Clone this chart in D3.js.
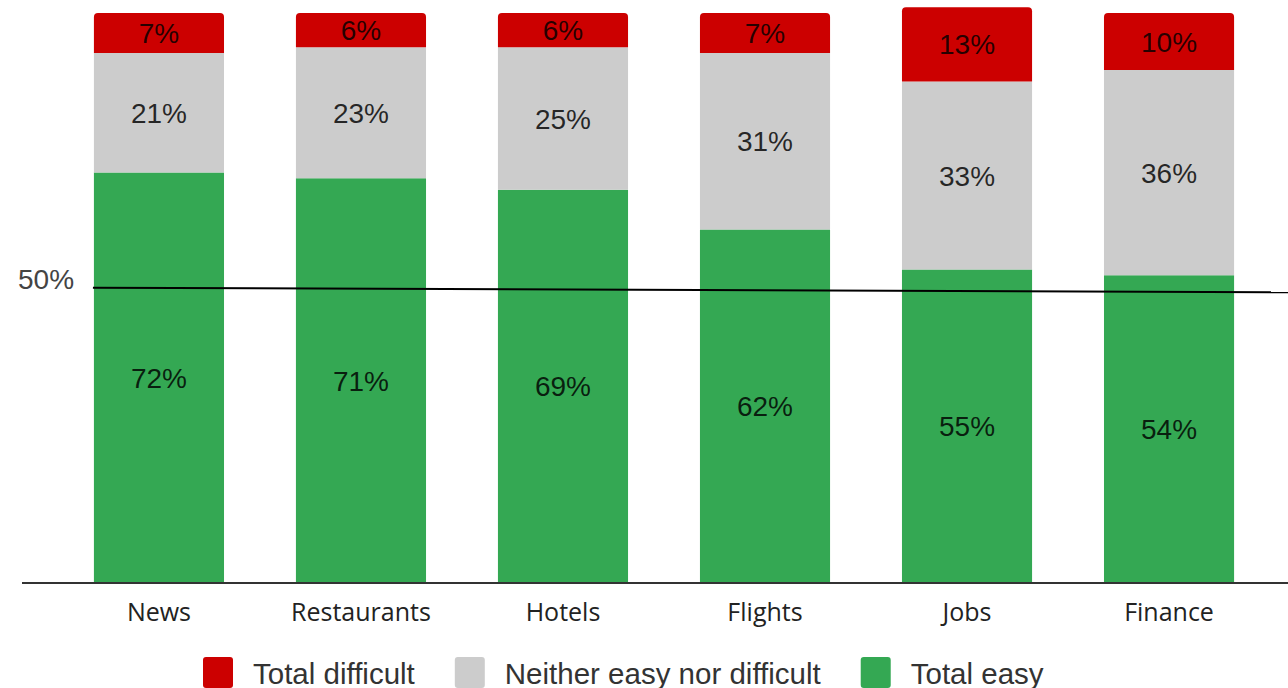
<!DOCTYPE html>
<html>
<head>
<meta charset="utf-8">
<script src="https://cdn.jsdelivr.net/npm/d3@7"></script>
<style>
  html, body { margin: 0; padding: 0; background: #fff; }
  svg { display: block; }
</style>
</head>
<body>
<div id="js-chart"></div>
<script>
// categories and series
var categories = ["News", "Restaurants", "Hotels", "Flights", "Jobs", "Finance"];
var totalEasy = [72, 71, 69, 62, 55, 54];
var neither = [21, 23, 25, 31, 33, 36];
var totalDifficult = [7, 6, 6, 7, 13, 10];

var seriesNames = ["Total easy", "Neither easy nor difficult", "Total difficult"];
var legendOrder = ["Total difficult", "Neither easy nor difficult", "Total easy"];
// the hand drawn "50%" line, value at left end and at right end
var fiftyLine = [51.8, 51.0];
var fiftyLabel = "50%";

var colors = {
    "Total easy": "#34a853",
    "Neither easy nor difficult": "#cccccc",
    "Total difficult": "#cc0000"
};

var width = 1288, height = 688;

var svg = d3.select("#js-chart").append("svg")
    .attr("width", width)
    .attr("height", height);

var x = d3.scaleBand()
    .domain(categories)
    .range([22, 1306])
    .paddingInner(0.356)
    .paddingOuter(0.356);

var y = d3.scaleLinear()
    .domain([0, 100])
    .range([583, 13]);

// rows for the stack
var rows = categories.map(function (c, i) {
    return {
        cat: c,
        "Total easy": totalEasy[i],
        "Neither easy nor difficult": neither[i],
        "Total difficult": totalDifficult[i]
    };
});

var stacked = d3.stack().keys(seriesNames)(rows);

// top segment gets rounded top corners
function segPath(x0, w, yTop, yBot, r) {
    return "M" + x0 + "," + yBot +
        "V" + (yTop + r) +
        "Q" + x0 + "," + yTop + " " + (x0 + r) + "," + yTop +
        "H" + (x0 + w - r) +
        "Q" + (x0 + w) + "," + yTop + " " + (x0 + w) + "," + (yTop + r) +
        "V" + yBot + "Z";
}

var layers = svg.append("g").attr("class", "bars")
    .selectAll("g")
    .data(stacked)
    .join("g")
    .attr("fill", function (d) { return colors[d.key]; });

layers.each(function (layer, li) {
    var g = d3.select(this);
    var top = li === stacked.length - 1;
    g.selectAll("path")
        .data(layer)
        .join("path")
        .attr("d", function (d) {
            return segPath(x(d.data.cat), x.bandwidth(), y(d[1]), y(d[0]), top ? 4 : 0);
        });

    g.selectAll("text")
        .data(layer)
        .join("text")
        .attr("x", function (d) { return x(d.data.cat) + x.bandwidth() / 2; })
        .attr("y", function (d) { return (y(d[0]) + y(d[1])) / 2; })
        .attr("dy", "0.36em")
        .attr("text-anchor", "middle")
        .attr("font-family", "Liberation Sans, Arial, sans-serif")
        .attr("font-size", 28)
        .attr("fill", "#000")
        .attr("fill-opacity", 0.82)
        .text(function (d) { return (d[1] - d[0]) + "%"; });
});

// baseline axis
svg.append("line")
    .attr("x1", 22).attr("x2", width)
    .attr("y1", y(0)).attr("y2", y(0))
    .attr("stroke", "#333")
    .attr("stroke-width", 2);

svg.append("g").selectAll("text")
    .data(categories)
    .join("text")
    .attr("x", function (d) { return x(d) + x.bandwidth() / 2; })
    .attr("y", 621)
    .attr("text-anchor", "middle")
    .attr("font-family", "Open Sans, Noto Sans, sans-serif")
    .attr("font-size", 25)
    .attr("fill", "#222")
    .text(function (d) { return d; });

// 50% annotation
svg.append("line")
    .attr("x1", x(categories[0]) - 1).attr("x2", width)
    .attr("y1", y(fiftyLine[0])).attr("y2", y(fiftyLine[1]))
    .attr("stroke", "#000")
    .attr("stroke-width", 2);

svg.append("text")
    .attr("x", 18)
    .attr("y", y(fiftyLine[0]) - 9)
    .attr("dy", "0.36em")
    .attr("font-family", "Liberation Sans, Arial, sans-serif")
    .attr("font-size", 28)
    .attr("fill", "#444")
    .text(fiftyLabel);

// legend
var legend = svg.append("g").attr("class", "legend");
var lx = 203;
legendOrder.forEach(function (name) {
    legend.append("rect")
        .attr("x", lx).attr("y", 657)
        .attr("width", 30).attr("height", 31)
        .attr("rx", 3)
        .attr("fill", colors[name]);
    var t = legend.append("text")
        .attr("x", lx + 50)
        .attr("y", 684)
        .attr("font-family", "Liberation Sans, Arial, sans-serif")
        .attr("font-size", 29.5)
        .attr("fill", "#333")
        .text(name);
    lx += 50 + t.node().getComputedTextLength() + 40;
});
</script>
</body>
</html>
